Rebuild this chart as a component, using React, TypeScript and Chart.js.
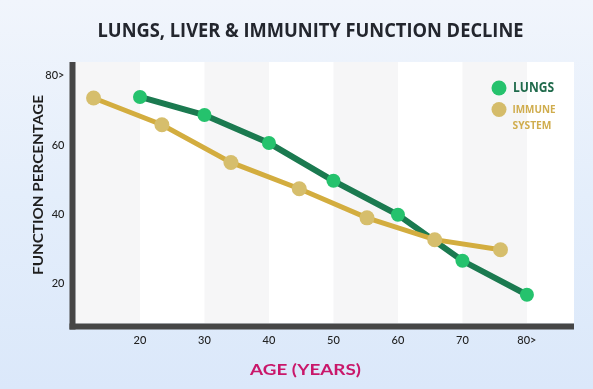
import React, { useEffect, useRef } from 'react';
import { Chart, registerables } from 'chart.js';
Chart.register(...registerables);

const chartTitle = 'LUNGS, LIVER & IMMUNITY FUNCTION DECLINE';
const xAxisTitle = 'AGE (YEARS)';
const yAxisTitle = 'FUNCTION PERCENTAGE';
const xTickValues = [20, 30, 40, 50, 60, 70, 80];
const xTickLabels = ['20', '30', '40', '50', '60', '70', '80>'];
const yTickValues = [20, 40, 60, 80];
const yTickLabels = ['20', '40', '60', '80>'];
const lungsAges = [20, 30, 40, 50, 60, 70, 80];
const lungsValues = [73.9, 68.7, 60.6, 49.7, 39.9, 26.6, 16.8];
const immuneAges = [12.8, 23.4, 34.1, 44.7, 55.2, 65.7, 75.9];
const immuneValues = [73.6, 65.9, 55.0, 47.4, 39.0, 32.7, 29.8];
const seriesLabels = ['LUNGS', 'IMMUNE SYSTEM'];

function fitText(ctx: CanvasRenderingContext2D, text: string, x: number, y: number, width: number, font: string, color: string, rotate = 0) {
  ctx.save();
  ctx.font = font;
  ctx.fillStyle = color;
  ctx.textAlign = 'center';
  ctx.textBaseline = 'middle';
  const w = ctx.measureText(text).width;
  ctx.translate(x, y);
  if (rotate) ctx.rotate(rotate);
  ctx.scale(width / w, 1);
  ctx.fillText(text, 0, 0);
  ctx.restore();
}

const decorPlugin = {
  id: 'decor',
  beforeDatasetsDraw(chart: any) {
    const { ctx, chartArea: a, scales } = chart;
    const xs = scales.x;
    ctx.save();
    ctx.fillStyle = '#ffffff';
    ctx.fillRect(a.left, a.top, a.right - a.left, a.bottom - a.top);
    ctx.fillStyle = '#f6f6f7';
    const edges = [xs.min, ...xTickValues];
    for (let i = 0; i < edges.length - 1; i += 2) {
      const x0 = xs.getPixelForValue(edges[i]);
      const x1 = xs.getPixelForValue(edges[i + 1]);
      ctx.fillRect(x0, a.top, x1 - x0, a.bottom - a.top);
    }
    ctx.fillStyle = '#464646';
    ctx.fillRect(a.left - 6, a.top, 6, a.bottom - a.top + 6);
    ctx.fillRect(a.left - 6, a.bottom, a.right - a.left + 6, 6);
    ctx.restore();
  },
  afterDraw(chart: any) {
    const { ctx } = chart;
    fitText(ctx, chartTitle, 310.5, 32, 426, 'bold 19px "Open Sans"', '#23262e');
    fitText(ctx, yAxisTitle, 38, 185, 180, 'bold 14px Lato', '#1e1e1e', -Math.PI / 2);
    fitText(ctx, xAxisTitle, 305.5, 370, 111, 'bold 16px Lato', '#c9176a');
    // legend
    ctx.save();
    ctx.fillStyle = '#26c26d';
    ctx.beginPath(); ctx.arc(499, 88, 7.5, 0, Math.PI * 2); ctx.fill();
    ctx.fillStyle = '#d5bc6a';
    ctx.beginPath(); ctx.arc(499, 109.5, 7.5, 0, Math.PI * 2); ctx.fill();
    ctx.restore();
    const [l1, l2] = [seriesLabels[0], seriesLabels[1].split(' ')];
    fitText(ctx, l1, 533.5, 88, 41, 'bold 14px "Open Sans"', '#1f6a4b');
    fitText(ctx, l2[0], 534, 109.5, 43, 'bold 11px "Open Sans"', '#d0ad4e');
    fitText(ctx, l2[1], 532, 125.5, 39, 'bold 11px "Open Sans"', '#d0ad4e');
  },
};

export default function App() {
  const ref = useRef<HTMLCanvasElement>(null);
  useEffect(() => {
    const chart = new Chart(ref.current!, {
      type: 'scatter',
      data: {
        datasets: [
          {
            label: seriesLabels[0],
            data: lungsAges.map((x, i) => ({ x, y: lungsValues[i] })),
            showLine: true,
            borderColor: '#1b7a50',
            borderWidth: 6,
            backgroundColor: '#25c26d',
            pointBackgroundColor: '#25c26d',
            pointBorderWidth: 0,
            pointRadius: 7,
            order: 2,
          },
          {
            label: seriesLabels[1],
            data: immuneAges.map((x, i) => ({ x, y: immuneValues[i] })),
            showLine: true,
            borderColor: '#d3ad3f',
            borderWidth: 5,
            backgroundColor: '#d6be6c',
            pointBackgroundColor: '#d6be6c',
            pointBorderWidth: 0,
            pointRadius: 7.5,
            order: 1,
          },
        ],
      },
      options: {
        animation: false,
        responsive: false,
        layout: { padding: { top: 62, right: 19, left: 0, bottom: 0 } },
        plugins: { legend: { display: false }, tooltip: { enabled: false }, title: { display: false } },
        scales: {
          x: {
            type: 'linear',
            min: 10,
            max: 87.3,
            grid: { display: false, drawTicks: false },
            border: { display: false },
            afterBuildTicks: (s: any) => { s.ticks = xTickValues.map((v) => ({ value: v })); },
            afterFit: (s: any) => { s.height = 65.5; },
            ticks: {
              autoSkip: false,
              maxRotation: 0,
              padding: 10,
              color: '#222222',
              font: { family: 'Lato', size: 11, weight: '500' as any },
              callback: (v: any) => xTickLabels[xTickValues.indexOf(v)] ?? '',
            },
          },
          y: {
            type: 'linear',
            min: 8.5,
            max: 84,
            grid: { display: false, drawTicks: false },
            border: { display: false },
            afterBuildTicks: (s: any) => { s.ticks = yTickValues.map((v) => ({ value: v })); },
            afterFit: (s: any) => { s.width = 75.5; },
            ticks: {
              autoSkip: false,
              padding: 11,
              color: '#222222',
              font: { family: 'Lato', size: 11, weight: '500' as any },
              callback: (v: any) => yTickLabels[yTickValues.indexOf(v)] ?? '',
            },
          },
        },
      },
      plugins: [decorPlugin],
    });
    return () => chart.destroy();
  }, []);
  return (
    <div style={{ position: 'fixed', left: 0, top: 0, width: 593, height: 389, background: 'linear-gradient(180deg, #f1f5fc 0%, #e4eefb 50%, #dbe8fa 100%)' }}>
      <canvas ref={ref} width={593} height={389} style={{ display: 'block' }} />
    </div>
  );
}
